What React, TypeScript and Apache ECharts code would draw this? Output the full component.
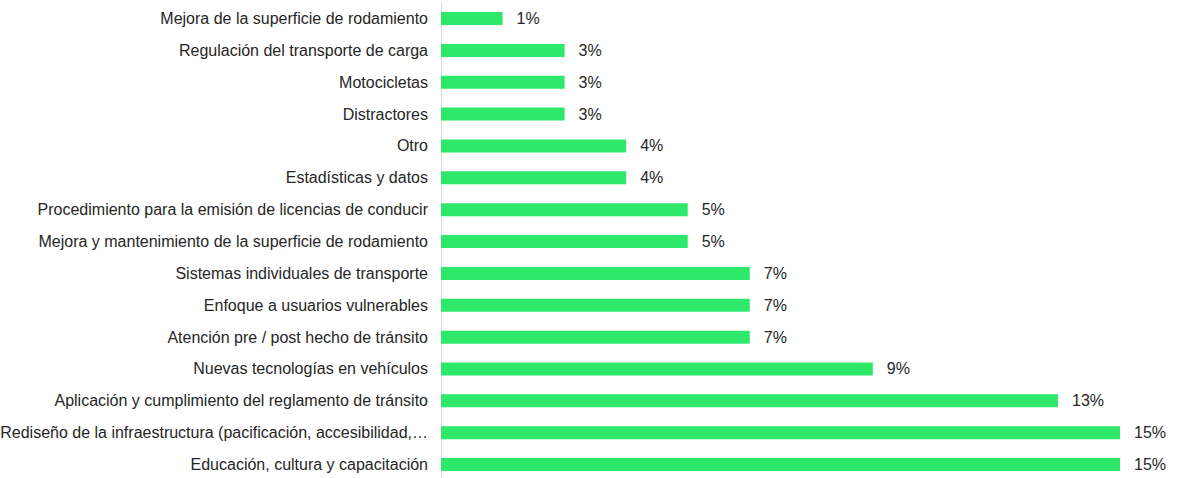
import React, { useEffect, useRef } from "react";
import * as echarts from "echarts";

const categories = [
  "Mejora de la superficie de rodamiento",
  "Regulación del transporte de carga",
  "Motocicletas",
  "Distractores",
  "Otro",
  "Estadísticas y datos",
  "Procedimiento para la emisión de licencias de conducir",
  "Mejora y mantenimiento de la superficie de rodamiento",
  "Sistemas individuales de transporte",
  "Enfoque a usuarios vulnerables",
  "Atención pre / post hecho de tránsito",
  "Nuevas tecnologías en vehículos",
  "Aplicación y cumplimiento del reglamento de tránsito",
  "Rediseño de la infraestructura (pacificación, accesibilidad,…",
  "Educación, cultura y capacitación",
];

const values = [1.33, 2.67, 2.67, 2.67, 4.0, 4.0, 5.33, 5.33, 6.67, 6.67, 6.67, 9.33, 13.33, 14.67, 14.67];

export default function App() {
  const ref = useRef<HTMLDivElement>(null);
  useEffect(() => {
    if (!ref.current) return;
    const chart = echarts.init(ref.current, null, { renderer: "svg" });
    chart.setOption({
      animation: false,
      backgroundColor: "#ffffff",
      grid: {
        left: 441,
        right: 41.7,
        top: 2.6,
        bottom: -2.5,
        containLabel: false,
        outerBoundsMode: "none",
      },
      xAxis: {
        type: "value",
        min: 0,
        max: 15,
        show: false,
      },
      yAxis: {
        type: "category",
        inverse: true,
        data: categories,
        axisLine: { show: true, lineStyle: { color: "#d9d9d9", width: 1 } },
        axisTick: { show: false },
        axisLabel: {
          margin: 13,
          color: "#262626",
          fontSize: 16,
          fontFamily: "Liberation Sans, Arial, sans-serif",
        },
      },
      series: [
        {
          type: "bar",
          data: values,
          barWidth: 13,
          itemStyle: { color: "#2ee86a" },
          label: {
            show: true,
            position: "right",
            distance: 14,
            color: "#262626",
            fontSize: 16,
            fontFamily: "Liberation Sans, Arial, sans-serif",
            formatter: (p: any) => Math.round(p.value) + "%",
          },
        },
      ],
    });
    return () => chart.dispose();
  }, []);
  return (
    <div
      ref={ref}
      style={{ position: "fixed", left: 0, top: 0, width: 1177, height: 478 }}
    />
  );
}
